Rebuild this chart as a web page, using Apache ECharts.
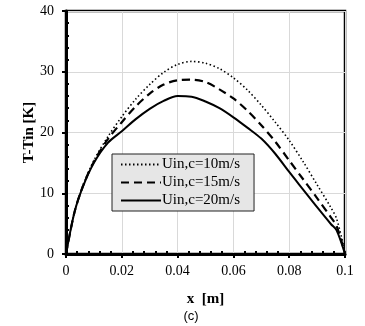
<!DOCTYPE html>
<html>
<head>
<meta charset="utf-8">
<script src="https://cdn.jsdelivr.net/npm/echarts@6/dist/echarts.min.js"></script>
<style>
  html, body { margin: 0; padding: 0; background: #fff; }
  #chart { width: 365px; height: 326px; }
</style>
</head>
<body>
<div id="chart"></div>
<script>
// positions along the channel (m)
const xs = [0, 0.003, 0.006, 0.01, 0.015, 0.02, 0.025, 0.03, 0.035, 0.04, 0.045, 0.05,
  0.055, 0.06, 0.065, 0.07, 0.075, 0.08, 0.085, 0.09, 0.095, 0.097, 0.1];

// T - Tin (K)
const u10 = [0, 6.8, 11.2, 15.4, 19.3, 22.6, 25.5, 27.9, 29.9, 31.2, 31.7, 31.4,
  30.5, 29.0, 27.0, 24.5, 21.7, 18.7, 15.2, 11.4, 7.6, 5.8, 0.3];
const u15 = [0, 6.8, 11.1, 15.2, 18.9, 21.7, 24.3, 26.4, 27.9, 28.6, 28.7, 28.3,
  27.1, 25.6, 23.6, 21.2, 18.5, 15.4, 12.3, 9.2, 6.0, 4.6, 0.1];
const u20 = [0, 6.8, 11.0, 15.0, 18.3, 20.2, 22.2, 23.9, 25.2, 26.0, 25.9, 25.1,
  24.0, 22.5, 20.8, 19.0, 16.5, 13.5, 10.6, 7.7, 4.9, 3.9, 0];

const names = ['Uin,c=10m/s', 'Uin,c=15m/s', 'Uin,c=20m/s'];

const pairs = arr => xs.map((x, i) => [x, arr[i]]);
const serif = '"Liberation Serif", "DejaVu Serif", serif';

const chart = echarts.init(document.getElementById('chart'));

chart.setOption({
  animation: false,
  title: {
    text: '(c)',
    left: 186,
    top: 305,
    textAlign: 'center',
    textStyle: { fontFamily: '"Liberation Sans", Arial, sans-serif', fontSize: 13, fontWeight: 'normal', color: '#000' }
  },
  grid: {
    left: 66, right: 20, top: 11, bottom: 72,
    show: true, borderColor: '#000', borderWidth: 2.5, backgroundColor: 'transparent'
  },
  legend: {
    orient: 'vertical',
    left: 112, top: 154,
    itemWidth: 40, itemHeight: 12, itemGap: 3,
    padding: [3, 14, 3, 8],
    backgroundColor: '#e6e6e6',
    borderColor: '#222', borderWidth: 1, borderRadius: 0,
    itemStyle: { opacity: 0 },
    textStyle: { fontFamily: serif, fontSize: 15, color: '#000', padding: [0, 0, 0, -4] },
    data: names
  },
  xAxis: {
    type: 'value',
    min: 0, max: 0.1, interval: 0.02,
    name: 'x  [m]',
    nameLocation: 'middle',
    nameGap: 38,
    nameMoveOverlap: false,
    nameTextStyle: { fontFamily: serif, fontSize: 15, fontWeight: 'bold', color: '#000' },
    axisLine: { lineStyle: { color: '#000', width: 3 } },
    axisTick: { length: 4, lineStyle: { color: '#000', width: 2 } },
    minorTick: { show: true, splitNumber: 5, length: -3, lineStyle: { color: '#000', width: 2 } },
    axisLabel: {
      fontFamily: serif, fontSize: 14, color: '#000', margin: 10,
      formatter: v => String(+v.toFixed(2))
    },
    splitLine: { show: true, lineStyle: { color: '#d9d9d9', width: 1 } }
  },
  yAxis: {
    type: 'value',
    min: 0, max: 40, interval: 10,
    name: 'T-Tin [K]',
    nameLocation: 'middle',
    nameGap: 29,
    nameMoveOverlap: false,
    nameTextStyle: { fontFamily: serif, fontSize: 15, fontWeight: 'bold', color: '#000' },
    axisLine: { lineStyle: { color: '#000', width: 3 } },
    axisTick: { length: 4, lineStyle: { color: '#000', width: 2 } },
    minorTick: { show: true, splitNumber: 5, length: -3, lineStyle: { color: '#000', width: 2 } },
    axisLabel: { fontFamily: serif, fontSize: 14, color: '#000', margin: 12 },
    splitLine: { show: true, lineStyle: { color: '#d9d9d9', width: 1 } }
  },
  series: [
    {
      name: names[0], type: 'line', symbol: 'none', smooth: 0.3,
      lineStyle: { color: '#000', width: 1.6, type: [1.5, 2.5] },
      data: pairs(u10)
    },
    {
      name: names[1], type: 'line', symbol: 'none', smooth: 0.3,
      lineStyle: { color: '#000', width: 2.2, type: [8, 5] },
      data: pairs(u15)
    },
    {
      name: names[2], type: 'line', symbol: 'none', smooth: 0.3,
      lineStyle: { color: '#000', width: 2 },
      data: pairs(u20)
    }
  ]
});
</script>
</body>
</html>
